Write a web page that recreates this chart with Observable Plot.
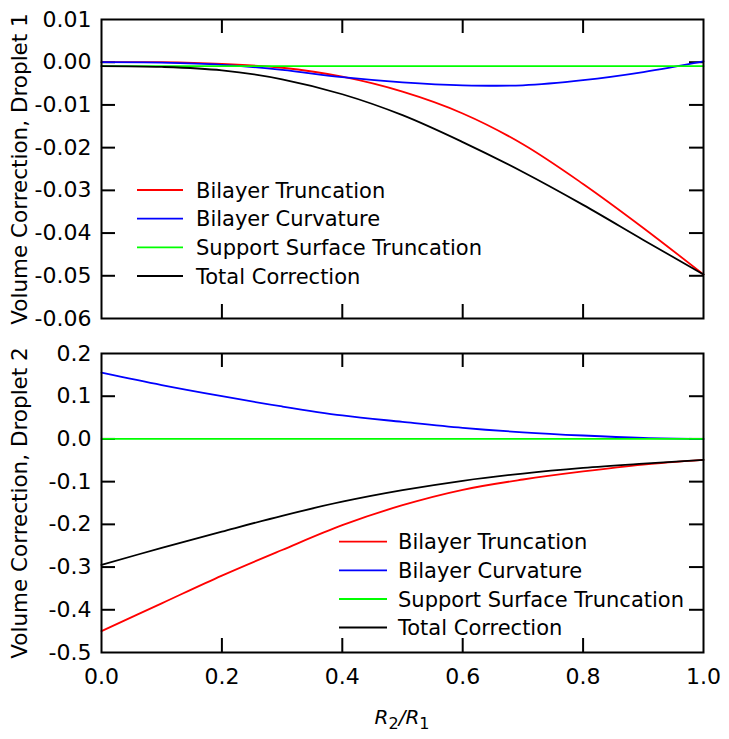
<!DOCTYPE html>
<html><head><meta charset="utf-8">
<script src="https://cdn.jsdelivr.net/npm/d3@7"></script>
<script src="https://cdn.jsdelivr.net/npm/@observablehq/plot@0.6"></script>
<style>
body{margin:0;background:#fff;}
#chart{position:relative;width:729px;height:739px;background:#fff;}
#chart svg{display:block;}
</style></head><body><div id="chart"></div>
<script>
// ---- data ----
const xValues = [0, 0.1, 0.2, 0.3, 0.4, 0.5, 0.6, 0.7, 0.8, 0.9, 1.0];
const seriesNames = ["Bilayer Truncation", "Bilayer Curvature", "Support Surface Truncation", "Total Correction"];
const seriesColors = ["#ff0000", "#0000ff", "#00ff00", "#000000"];

// Droplet 1
const d1Truncation = [0, -0.0000, -0.0004, -0.0013, -0.0034, -0.0069, -0.0120, -0.0192, -0.0285, -0.0388, -0.0497];
const d1Curvature  = [0, -0.0001, -0.0006, -0.0018, -0.0035, -0.0047, -0.0054, -0.0054, -0.0042, -0.0023, 0.0002];
const d1Support    = [-0.0009, -0.0009, -0.0009, -0.0009, -0.0009, -0.0009, -0.0009, -0.0009, -0.0009, -0.0009, -0.0009];
const d1Total      = [-0.0009, -0.0011, -0.0019, -0.0040, -0.0075, -0.0124, -0.0187, -0.0257, -0.0334, -0.0416, -0.0497];

// Droplet 2
const d2Truncation = [-0.450, -0.385, -0.320, -0.260, -0.202, -0.155, -0.119, -0.095, -0.076, -0.060, -0.049];
const d2Curvature  = [0.155, 0.126, 0.100, 0.076, 0.055, 0.040, 0.026, 0.0155, 0.008, 0.0025, 0];
const d2Support    = [0, 0, 0, 0, 0, 0, 0, 0, 0, 0, 0];
const d2Total      = [-0.295, -0.255, -0.217, -0.180, -0.147, -0.120, -0.098, -0.081, -0.068, -0.058, -0.049];

const xTicks = [0, 0.2, 0.4, 0.6, 0.8, 1.0];
const yTicks1 = [0.01, 0, -0.01, -0.02, -0.03, -0.04, -0.05, -0.06];
const yTicks2 = [0.2, 0.1, 0, -0.1, -0.2, -0.3, -0.4, -0.5];
const yLabel1 = "Volume Correction, Droplet 1";
const yLabel2 = "Volume Correction, Droplet 2";

// ---- layout ----
const W = 729, mL = 101, mR = 26;
const FONT = "DejaVu Sans";
const TICK = 14;

function rows(seriesList) {
  const out = [];
  seriesList.forEach((vals, s) => vals.forEach((v, i) => out.push({x: xValues[i], y: v, name: seriesNames[s]})));
  return out;
}

function panel({height, mT, mB, yDomain, yTicks, yFmt, yLabel, seriesList, showX}) {
  const frameW = W - mL - mR;
  const frameH = height - mT - mB;
  const innerX = xTicks.slice(1, -1);
  const innerY = yTicks.filter(t => t !== yDomain[0] && t !== yDomain[1]);
  const data = rows(seriesList);
  const marks = [
    Plot.ruleX(innerX, {x: d => d, insetTop: frameH - TICK, stroke: "black", strokeWidth: 2}),
    Plot.ruleX(innerX, {x: d => d, insetBottom: frameH - TICK, stroke: "black", strokeWidth: 2}),
    Plot.ruleY(innerY, {y: d => d, insetRight: frameW - TICK, stroke: "black", strokeWidth: 2}),
    Plot.ruleY(innerY, {y: d => d, insetLeft: frameW - TICK, stroke: "black", strokeWidth: 2}),
    Plot.line(data, {x: "x", y: "y", z: "name", stroke: d => seriesColors[seriesNames.indexOf(d.name)], strokeWidth: 1.8, curve: "catmull-rom"}),
    Plot.frame({stroke: "black", strokeWidth: 2}),
    Plot.axisY({ticks: yTicks, tickSize: 0, tickPadding: 10, tickFormat: yFmt, label: null, fontSize: 22}),
    Plot.text([yLabel], {text: d => d, frameAnchor: "left", dx: -81, rotate: -90, textAnchor: "middle", fontSize: 21.5, fill: "black"})
  ];
  if (showX) marks.push(Plot.axisX({ticks: xTicks, tickSize: 0, tickPadding: 16, tickFormat: d => d.toFixed(1), label: null, fontSize: 22}));
  return Plot.plot({
    width: W, height,
    marginLeft: mL, marginRight: mR, marginTop: mT, marginBottom: mB,
    style: {fontFamily: FONT, fontSize: "21px", color: "black", background: "white"},
    x: {domain: [0, 1], axis: showX ? undefined : null},
    y: {domain: yDomain},
    marks
  });
}

function addLegend(svg, x0, x1, xt, yRows) {
  const g = d3.select(svg).append("g").attr("font-family", FONT).attr("font-size", 21).attr("text-anchor", "start");
  seriesNames.forEach((name, i) => {
    g.append("line").attr("x1", x0).attr("x2", x1).attr("y1", yRows[i]).attr("y2", yRows[i])
      .attr("stroke", seriesColors[i]).attr("stroke-width", 1.8);
    g.append("text").attr("x", xt).attr("y", yRows[i]).attr("dy", "0.36em").attr("fill", "black").text(name);
  });
}

const topSvg = panel({height: 336, mT: 19, mB: 18, yDomain: [-0.06, 0.01], yTicks: yTicks1,
  yFmt: d => d.toFixed(2), yLabel: yLabel1, seriesList: [d1Truncation, d1Curvature, d1Support, d1Total], showX: false});
const bottomSvg = panel({height: 403, mT: 17, mB: 87, yDomain: [-0.5, 0.2], yTicks: yTicks2,
  yFmt: d => d.toFixed(1), yLabel: yLabel2, seriesList: [d2Truncation, d2Curvature, d2Support, d2Total], showX: true});

addLegend(topSvg, 137, 183, 196, [190, 218.7, 247.4, 276]);
addLegend(bottomSvg, 339, 387, 398, [205.7, 234.3, 263, 291.5]);

// x-axis title with italic R and subscripts
const xTitle = d3.select(bottomSvg).append("text")
  .attr("x", 402).attr("y", 388).attr("text-anchor", "middle")
  .attr("font-family", FONT).attr("font-size", 20).attr("fill", "black");
xTitle.append("tspan").attr("font-style", "italic").text("R");
xTitle.append("tspan").attr("font-size", 16).attr("dy", 5).text("2");
xTitle.append("tspan").attr("dy", -5).attr("font-style", "italic").text("/");
xTitle.append("tspan").attr("font-style", "italic").text("R");
xTitle.append("tspan").attr("font-size", 16).attr("dy", 5).text("1");

const chart = document.getElementById("chart");
chart.appendChild(topSvg);
chart.appendChild(bottomSvg);
</script>
</body></html>
